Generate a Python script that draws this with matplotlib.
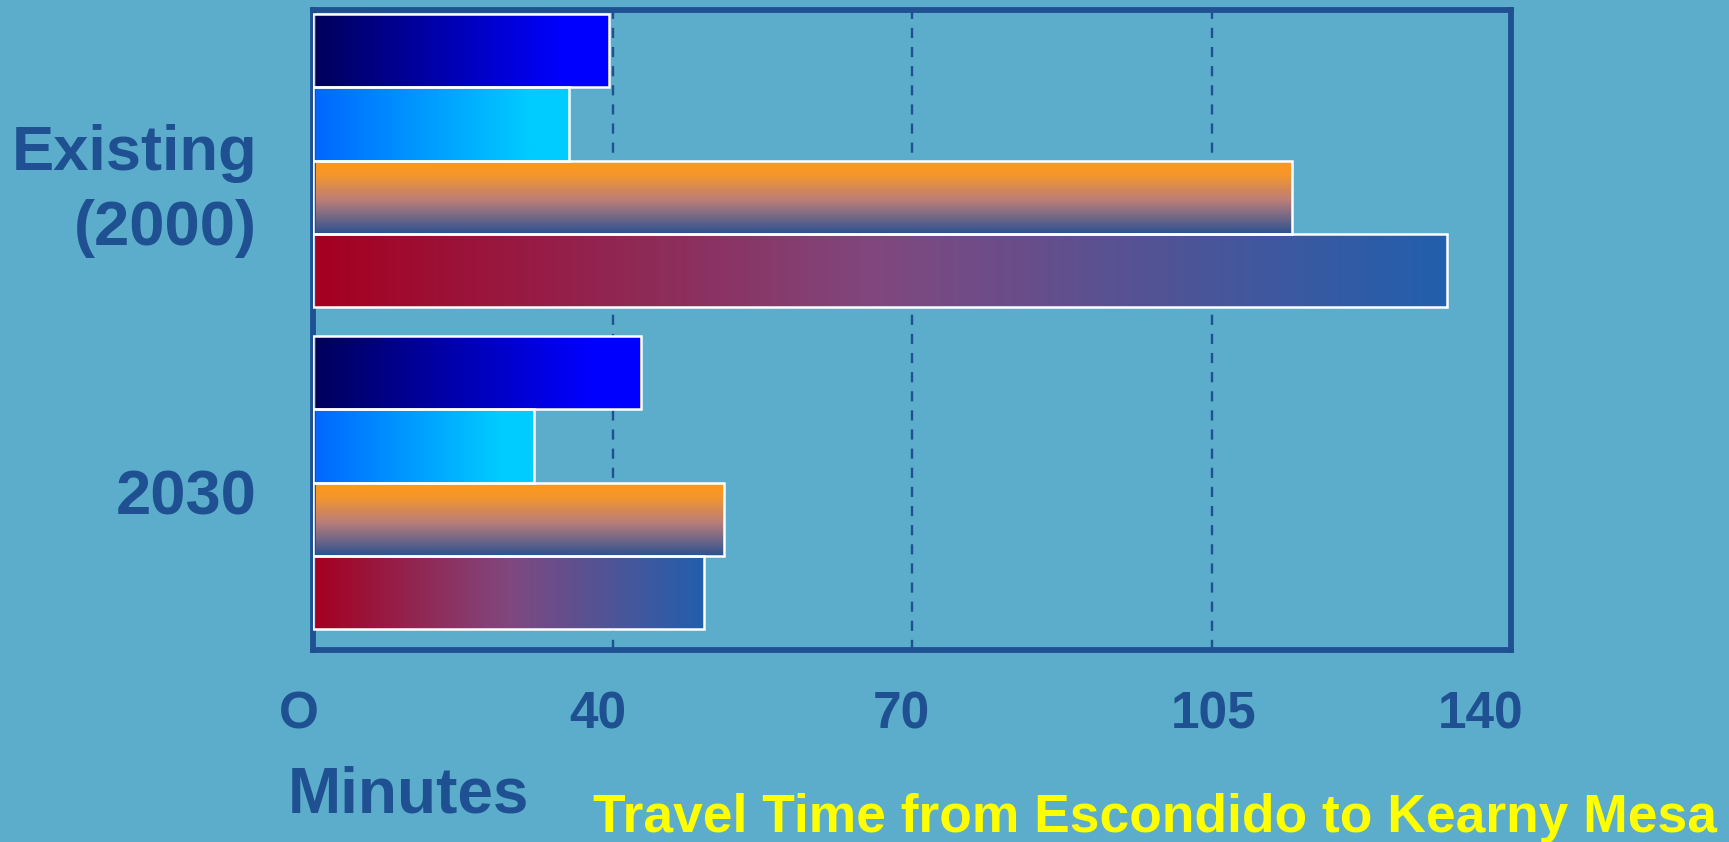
import numpy as np
import matplotlib
matplotlib.use("Agg")
import matplotlib.pyplot as plt
from matplotlib.colors import LinearSegmentedColormap
from matplotlib.transforms import ScaledTranslation, blended_transform_factory

# ---------------- data ----------------
categories = ["Existing\n(2000)", "2030"]
series_navy = [34.6, 38.3]      # top bar in each group (dark blue)
series_cyan = [29.9, 25.8]      # second bar (light blue)
series_orange = [114.4, 48.0]   # third bar (orange)
series_red = [132.5, 45.7]      # fourth bar (red -> blue)
tick_values = [0, 35, 70, 105, 140]
tick_labels = ["O", "40", "70", "105", "140"]
x_label = "Minutes"
title_text = "Travel Time from Escondido to Kearny Mesa"

# ---------------- style ----------------
BG = "#5BADCB"
DARK = "#1F5091"
FONT = "Liberation Sans"

W, H = 1729, 842
fig = plt.figure(figsize=(W / 100, H / 100), dpi=100, facecolor=BG)
ax = fig.add_axes([313 / W, 1 - 650 / H, 1198 / W, 640 / H])
ax.set_facecolor(BG)

group_pos = np.array([0.0, 4.393])
bar_offsets = [-1.5, -0.5, 0.5, 1.5]
bar_h = 1.0

cmaps = [
    LinearSegmentedColormap.from_list("navy", [(0, "#00005A"), (0.85, "#0000FF"), (1, "#0000FF")]),
    LinearSegmentedColormap.from_list("cyan", [(0, "#0066FF"), (0.85, "#00CCFF"), (1, "#00CCFF")]),
    LinearSegmentedColormap.from_list("orng", [(0, "#FF9914"), (0.2, "#F5962C"), (0.55, "#B97D7A"), (1, "#2A5191")]),
    LinearSegmentedColormap.from_list("redb", [(0, "#A50020"), (0.5, "#80487F"), (1, "#225FAD")]),
]
directions = ["h", "h", "v", "h"]
all_series = [series_navy, series_cyan, series_orange, series_red]

for vals, off, cmap, d in zip(all_series, bar_offsets, cmaps, directions):
    bars = ax.barh(group_pos + off, vals, height=bar_h, color="none",
                   edgecolor="white", linewidth=1.8, zorder=3)
    for b in bars:
        x0, y0, w, h = b.get_x(), b.get_y(), b.get_width(), b.get_height()
        if d == "h":
            grad = np.linspace(0, 1, 256)[None, :]
        else:
            grad = np.linspace(0, 1, 256)[:, None]
        im = ax.imshow(grad, cmap=cmap, aspect="auto", origin="upper",
                       extent=(x0, x0 + w, y0 + h, y0), zorder=2,
                       interpolation="bilinear")
        im.set_clip_path(b)

ax.set_xlim(tick_values[0], tick_values[-1])
ax.set_ylim(6.675, -2.055)
ax.set_yticks([])

# grid
ax.set_xticks(tick_values)
ax.xaxis.grid(True, color=DARK, linewidth=1.7, linestyle=(0, (4.3, 3.8)))
ax.set_axisbelow(True)

for s in ax.spines.values():
    s.set_color(DARK)
    s.set_linewidth(4.2)

ax.set_xticklabels(tick_labels, fontsize=37, fontweight="bold", color=DARK, family=FONT)
ax.tick_params(axis="x", length=0, pad=29)
label_dx = [-14, -15, -11, 2, -30]
for lbl, dx in zip(ax.get_xticklabels(), label_dx):
    lbl.set_transform(lbl.get_transform() + ScaledTranslation(dx / 100, 0, fig.dpi_scale_trans))

ax.set_xlabel(x_label, fontsize=46, fontweight="bold", color=DARK, family=FONT, va="top")
ax.xaxis.set_label_coords((408 - 313) / 1198, -0.18)

# category labels
trans = blended_transform_factory(ax.transAxes, ax.transData)
cat_dy = [1.15, 0.44]
for cat, gp, dy in zip(categories, group_pos, cat_dy):
    ax.text(-0.0467, gp + dy, cat, transform=trans, ha="right", va="baseline",
            fontsize=45.5, fontweight="bold", color=DARK, family=FONT, linespacing=1.34)

fig.text(593 / W, (H - 832) / H, title_text, ha="left", va="baseline",
         fontsize=38.4, fontweight="bold", color="#FFFF00", family=FONT)

fig.savefig("out.png", dpi=100, facecolor=BG)
